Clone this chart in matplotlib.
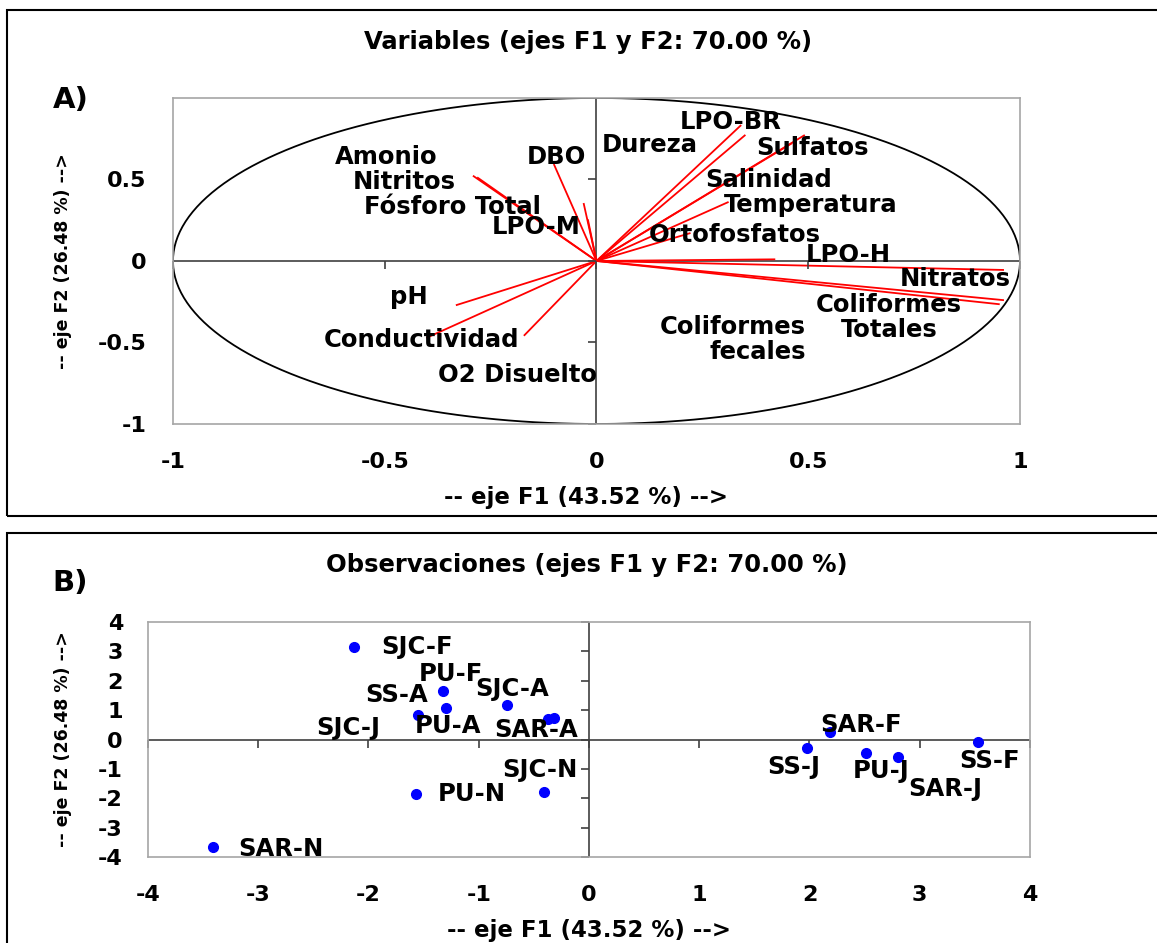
import matplotlib.pyplot as plt
import numpy as np
from matplotlib.patches import Rectangle

# loadings of the variables on F1 / F2
var_names = ['Amonio', 'Nitritos', 'Fósforo Total', 'LPO-M', 'DBO', 'Dureza',
             'LPO-BR', 'Sulfatos', 'Salinidad', 'Temperatura', 'Ortofosfatos',
             'LPO-H', 'Nitratos', 'Coliformes\nTotales', 'Coliformes\nfecales',
             'pH', 'Conductividad', 'O2 Disuelto']
var_f1 = [-0.29, -0.28, -0.03, -0.02, -0.10, 0.35, 0.34, 0.49, 0.46, 0.31, 0.22,
          0.42, 0.96, 0.96, 0.95, -0.33, -0.40, -0.17]
var_f2 = [0.52, 0.51, 0.35, 0.25, 0.59, 0.77, 0.83, 0.77, 0.72, 0.36, 0.17,
          0.01, -0.055, -0.24, -0.265, -0.27, -0.47, -0.455]

# scores of the observations on F1 / F2
obs_names = ['SJC-F', 'PU-F', 'SS-A', 'SJC-A', 'PU-A', 'SAR-A', 'SJC-J',
             'SJC-N', 'PU-N', 'SAR-N', 'SAR-F', 'SS-J', 'PU-J', 'SAR-J', 'SS-F']
obs_f1 = [-2.13, -1.32, -1.55, -0.74, -1.30, -0.32, -0.37,
          -0.41, -1.57, -3.41, 2.19, 1.98, 2.51, 2.80, 3.53]
obs_f2 = [3.14, 1.64, 0.84, 1.16, 1.07, 0.74, 0.70,
          -1.78, -1.87, -3.66, 0.25, -0.30, -0.47, -0.61, -0.10]

# label offsets in pixels (dx, dy, ha)
var_offsets = [(-87, 19, 'center'), (-74, -4, 'center'), (-131, -3, 'center'),
               (-52, -7, 'center'), (2, 8, 'center'), (-95, -10, 'center'),
               (-10, 4, 'center'), (8, -13, 'center'), (-23, -36, 'center'),
               (83, -3, 'center'), (45, -2, 'center'), (74, 4, 'center'),
               (-48, -9, 'center'), (-114, -17, 'center'), (-193, -35, 'right'),
               (-48, 8, 'center'), (-6, -2, 'center'), (-7, -40, 'center')]
obs_offsets = [(63, 0), (7, 17), (-21, 20), (5, 16), (2, -18), (-18, -12),
               (-200, -9), (-4, 22), (56, 0), (68, -2), (31, 7), (-14, -19),
               (15, -18), (48, -32), (11, -19)]

plt.rcParams['font.family'] = 'DejaVu Sans'
plt.rcParams['font.weight'] = 'bold'
plt.rcParams['axes.labelweight'] = 'bold'

fig = plt.figure(figsize=(11.57, 9.43), dpi=100)

# panel frames
for y0, h in [(0.4528, 0.5366), (-0.01, 0.4448)]:
    fig.add_artist(Rectangle((0.006, y0), 1.0, h, transform=fig.transFigure,
                             fill=False, edgecolor='black', linewidth=1.5))


def style_axes(ax, xticks, yticks, xlabels, ylabels, xpad, ypad):
    ax.set_xticks(xticks)
    ax.set_yticks(yticks)
    ax.set_xticklabels(xlabels, fontweight='bold')
    ax.set_yticklabels(ylabels, fontweight='bold')
    ax.tick_params(length=0, labelsize=16)
    ax.tick_params(axis='x', pad=xpad)
    ax.tick_params(axis='y', pad=ypad)
    for s in ax.spines.values():
        s.set_color('#a6a6a6')
        s.set_linewidth(1.2)
    ax.axhline(0, color='#404040', linewidth=1.2, zorder=1)
    ax.axvline(0, color='#404040', linewidth=1.2, zorder=1)
    # small ticks on the zero lines
    ax.plot(xticks, [0] * len(xticks), ls='', marker=3, ms=6, mew=1.2,
            color='#404040', clip_on=False)
    ax.plot([0] * len(yticks), yticks, ls='', marker=0, ms=6, mew=1.2,
            color='#404040', clip_on=False)


# A) correlation circle
ax1 = fig.add_axes([0.1495, 0.5504, 0.7321, 0.3457])
ax1.set_xlim(-1, 1)
ax1.set_ylim(-1, 1)
theta = np.linspace(0, 2 * np.pi, 400)
ax1.plot(np.cos(theta), np.sin(theta), color='black', linewidth=1.3)
for name, x, y, (dx, dy, ha) in zip(var_names, var_f1, var_f2, var_offsets):
    ax1.plot([0, x], [0, y], color='red', linewidth=1.3)
    ax1.annotate(name, (x, y), xytext=(dx, dy), textcoords='offset pixels',
                 ha=ha, va='center', fontsize=17.5, fontweight='bold',
                 multialignment=ha, linespacing=1.05)
style_axes(ax1, [-1, -0.5, 0, 0.5, 1], [-1, -0.5, 0, 0.5],
           ['-1', '-0.5', '0', '0.5', '1'], ['-1', '-0.5', '0', '0.5'], 20, 19)
ax1.set_xlabel('-- eje F1 (43.52 %) -->', fontsize=16.5, fontweight='bold')
ax1.xaxis.set_label_coords(0.488, -0.19)
ax1.set_ylabel('-- eje F2 (26.48 %) -->', fontsize=12.5, fontweight='bold')
ax1.yaxis.set_label_coords(-0.119, 0.5)
fig.text(0.508, 0.955, 'Variables (ejes F1 y F2: 70.00 %)', ha='center',
         va='center', fontsize=17.5, fontweight='bold')
fig.text(0.061, 0.894, 'A)', ha='center', va='center', fontsize=21,
         fontweight='bold')

# B) observations
ax2 = fig.add_axes([0.1279, 0.0912, 0.7623, 0.2492])
ax2.set_xlim(-4, 4)
ax2.set_ylim(-4, 4)
ax2.plot(obs_f1, obs_f2, ls='', marker='o', ms=7, color='blue', zorder=3)
for name, x, y, (dx, dy) in zip(obs_names, obs_f1, obs_f2, obs_offsets):
    ax2.annotate(name, (x, y), xytext=(dx, dy), textcoords='offset pixels',
                 ha='center', va='center', fontsize=17.5, fontweight='bold')
ticks = list(range(-4, 5))
style_axes(ax2, ticks, ticks, [str(t) for t in ticks], [str(t) for t in ticks],
           20, 18)
ax2.set_xlabel('-- eje F1 (43.52 %) -->', fontsize=16.5, fontweight='bold')
ax2.xaxis.set_label_coords(0.5, -0.264)
ax2.set_ylabel('-- eje F2 (26.48 %) -->', fontsize=12.5, fontweight='bold')
ax2.yaxis.set_label_coords(-0.086, 0.5)
fig.text(0.507, 0.401, 'Observaciones (ejes F1 y F2: 70.00 %)', ha='center',
         va='center', fontsize=17.5, fontweight='bold')
fig.text(0.061, 0.382, 'B)', ha='center', va='center', fontsize=21,
         fontweight='bold')

fig.savefig('out.png', dpi=100)
